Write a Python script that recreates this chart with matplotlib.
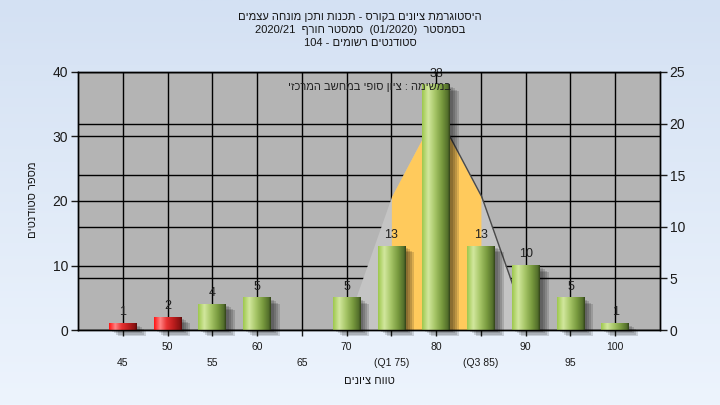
import re
import numpy as np
import matplotlib
matplotlib.use('Agg')
import matplotlib.pyplot as plt
from matplotlib.colors import LinearSegmentedColormap, to_rgb
from matplotlib.patches import Rectangle
import matplotlib.transforms as mtransforms

# ---------------- data ----------------
grades = [45, 50, 55, 60, 65, 70, 75, 80, 85, 90, 95, 100]
tick_labels = ['45', '50', '55', '60', '65', '70', '(Q1 75)', '80', '(Q3 85)', '90', '95', '100']
counts = [1, 2, 4, 5, 0, 5, 13, 38, 13, 10, 5, 1]
pass_grade = 55
curve_grades = [70, 75, 80, 85, 90]
curve_values = [0.6, 12.9, 21.1, 12.9, 0.6]
q1_grade, q3_grade = 75, 85
left_ticks = [0, 10, 20, 30, 40]
right_ticks = [0, 5, 10, 15, 20, 25]

title_lines = ['היסטוגרמת ציונים בקורס - תכנות ותכן מונחה עצמים',
               'בסמסטר  (01/2020)  סמסטר חורף  2020/21',
               'סטודנטים רשומים - 104']
note_text = 'במשימה : ציון סופי במחשב המרכזי'
x_title = 'טווח ציונים'
y_title = 'מספר סטודנטים'

FAM = ['Liberation Sans', 'DejaVu Sans']
plt.rcParams['font.family'] = FAM


def vis(s):
    """Simple visual reordering for right-to-left text."""
    mirror = {'(': ')', ')': '('}
    parts = re.findall(r'[0-9A-Za-z][0-9A-Za-z/.]*[0-9A-Za-z]|[0-9A-Za-z]|.', s)
    out = []
    for p in reversed(parts):
        if re.match(r'[0-9A-Za-z]', p):
            out.append(p)
        else:
            out.append(mirror.get(p, p))
    return ''.join(out)


W, H = 720, 405
fig = plt.figure(figsize=(W / 100, H / 100), dpi=100)

# background gradient
bg = fig.add_axes([0, 0, 1, 1], zorder=-5)
c_top, c_bot = np.array(to_rgb('#d4e1f3')), np.array(to_rgb('#edf4fd'))
t = np.linspace(0, 1, 256)[:, None]
grad = c_top[None, :] * (1 - t) + c_bot[None, :] * t
bg.imshow(grad[:, None, :].repeat(2, axis=1), aspect='auto', extent=(0, 1, 0, 1))
bg.axis('off')

L, R, B, T = 78, 660, 330, 72
ax = fig.add_axes([L / W, 1 - B / H, (R - L) / W, (B - T) / H])
ax.set_facecolor('#b4b4b4')
ax2 = ax.twinx()

x = np.arange(len(grades))
ax.set_xlim(-1, len(grades))
ax.set_ylim(left_ticks[0], left_ticks[-1])
ax2.set_ylim(right_ticks[0], right_ticks[-1])

# grid
ax.set_axisbelow(True)
ax.set_yticks(left_ticks)
ax.set_xticks(x[1::2], [tick_labels[i] for i in x[1::2]])
ax.set_xticks(x[0::2], [tick_labels[i] for i in x[0::2]], minor=True)
ax.grid(True, axis='x', which='both', color='black', lw=1.0, zorder=0.5)
ax.grid(True, axis='y', which='major', color='black', lw=1.0, zorder=0.5)
ax2.set_yticks(right_ticks)
rtrans = mtransforms.blended_transform_factory(ax.transAxes, ax2.transData)
ax.hlines(right_ticks[1:-1], 0, 1, transform=rtrans, color='black', lw=1.0, zorder=0.6)

# curve (right scale)
ctrans = ax2.transData
cx = np.array([grades.index(g) for g in curve_grades])
cy = np.array(curve_values)
ax.fill_between(cx, 0, cy, transform=ctrans, color='#c4c4c4', lw=0, zorder=1)
sel = [(g >= q1_grade) and (g <= q3_grade) for g in curve_grades]
ax.fill_between(cx[sel], 0, cy[sel], transform=ctrans, color='#ffca5c', lw=0, zorder=1.1)
pk = int(np.argmax(cy))
ax.plot(cx[pk:] + 0.02, cy[pk:], transform=ctrans, color='#4a4a4a', lw=1.0, zorder=1.2)

# bars
bw = 0.62
bars = ax.bar(x, counts, width=bw, color='none', edgecolor='none', zorder=3)
green = LinearSegmentedColormap.from_list('g', [(0, '#9ec84e'), (0.22, '#d2e79e'), (0.45, '#a9c86a'),
                                                (0.72, '#789a3e'), (0.93, '#536f2b'), (1, '#33441a')])
red = LinearSegmentedColormap.from_list('r', [(0, '#ff1414'), (0.22, '#ff8484'), (0.45, '#e83232'),
                                              (0.72, '#b81c1c'), (0.93, '#881212'), (1, '#5a0c0c')])
gvals = np.linspace(0, 1, 64)[None, :]
for g, c, p in zip(grades, counts, bars.patches):
    if c <= 0:
        continue
    x0, w, h = p.get_x(), p.get_width(), p.get_height()
    # shadow
    for k, (dx, dy) in enumerate([(3, -2), (5, -3), (7, -5), (9, -6)]):
        off = mtransforms.ScaledTranslation(dx / 100, dy / 100, fig.dpi_scale_trans)
        ax.add_patch(Rectangle((x0, 0), w, h, transform=ax.transData + off, color='black',
                               alpha=0.14, lw=0, zorder=2, clip_on=False))
    cmap = red if g < pass_grade else green
    ax.imshow(gvals, cmap=cmap, aspect='auto', extent=(x0, x0 + w, 0, h), zorder=3,
              interpolation='bilinear')
    ax.annotate(str(c), (p.get_x() + w / 2, h), xytext=(0, 8), textcoords='offset points',
                ha='center', va='center', fontsize=9, color='#202020', zorder=4,
                annotation_clip=False)

ax.set_xlim(-1, len(grades))
ax.set_ylim(left_ticks[0], left_ticks[-1])

# ticks
ax.tick_params(axis='y', which='major', length=5, width=1, labelsize=10, colors='#1a1a1a', pad=2)
ax2.tick_params(axis='y', length=5, width=1, labelsize=10, colors='#1a1a1a', pad=2)
ax.tick_params(axis='x', which='major', length=4, width=1, labelsize=7.5, colors='#1a1a1a', pad=4.5)
ax.tick_params(axis='x', which='minor', length=4, width=1, labelsize=7.5, colors='#1a1a1a', pad=16)
for sp in list(ax.spines.values()) + list(ax2.spines.values()):
    sp.set_color('black')
    sp.set_linewidth(1.0)

# texts
ax.text(0.5, (B - 87) / (B - T), vis(note_text), transform=ax.transAxes, ha='center', va='center',
        fontsize=8, color='#222222', zorder=5)
for i, line in enumerate(title_lines):
    fig.text(0.5, 1 - (17 + 13 * i) / H, vis(line), ha='center', va='center', fontsize=8,
             color='#151515')
fig.text((L + R) / 2 / W, 1 - 381 / H, vis(x_title), ha='center', va='center', fontsize=8,
         color='#151515')
fig.text(33 / W, 1 - 200 / H, vis(y_title), ha='center', va='center', rotation=90, fontsize=8,
         color='#151515')

fig.savefig('out.png', dpi=100)
